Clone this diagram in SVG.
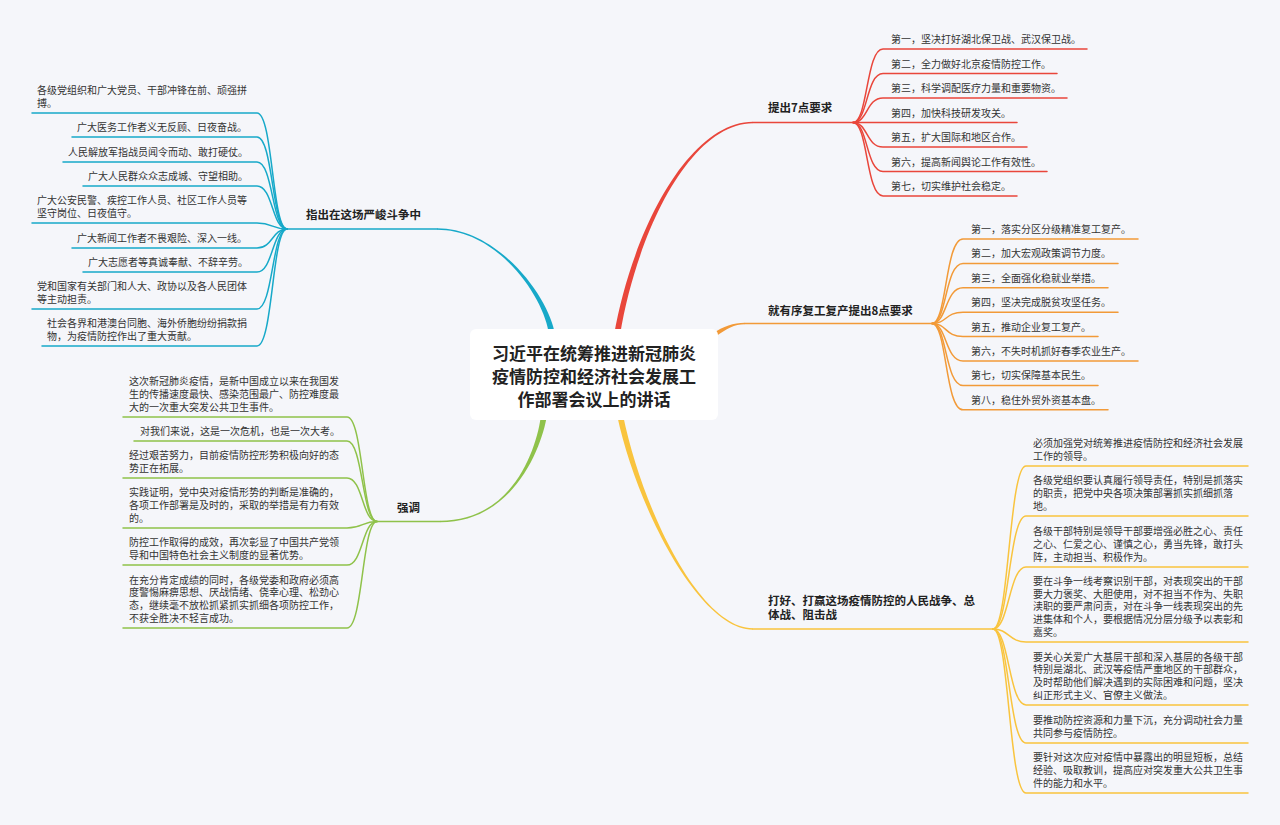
<svg xmlns="http://www.w3.org/2000/svg" width="1280" height="825" viewBox="0 0 1280 825">
<style>
text{font-family:"Noto Sans CJK SC","Noto Sans",sans-serif;}
.c{font-size:10px;fill:#333;}
.m{font-size:11.5px;font-weight:bold;fill:#222;}
.t{font-size:17px;font-weight:bold;fill:#222;text-anchor:middle;}
.l{fill:none;stroke-width:1.5;stroke-linecap:round;}
.red{stroke:#e9463b;} .redf{fill:#e9463b;}
.org{stroke:#f29a38;} .orgf{fill:#f29a38;}
.yel{stroke:#f9c43e;} .yelf{fill:#f9c43e;}
.grn{stroke:#8fc24a;} .grnf{fill:#8fc24a;}
.cyn{stroke:#17a9c9;} .cynf{fill:#17a9c9;}
</style>
<rect width="1280" height="825" fill="#f5f6fa"/>
<g id="connectors">
  <!-- main branches -->
  <path class="redf" d="M614,335 C632.5,230 689,121.75 753,121.75 L753,123.25 C691,123.25 637.5,230 620,335 Z"/>
  <path class="l red" d="M753,122.5 H853"/>
  <path class="cynf" d="M549,335 C545.5,300 500,229.75 437,229.75 L437,228.25 C500,228.25 550.5,300 555,335 Z"/>
  <path class="l cyn" d="M437,229 H287"/>
  <path class="grnf" d="M541,415 C537.5,445 515,520.75 440,520.75 L440,522.25 C515,522.25 542.5,445 547,415 Z"/>
  <path class="l grn" d="M440,521.5 H377"/>
  <path class="yelf" d="M623,415 C642.5,510 700,628.25 753,628.25 L753,629.75 C700,629.75 637.5,510 617,415 Z"/>
  <path class="l yel" d="M753,629 H993"/>
  <path class="orgf" d="M712,334 C724,326 733,322.75 745,322.75 L745,324.25 C734,324.25 727,328.5 715,337 Z"/>
  <path class="l org" d="M745,323.5 H932"/>
  <!-- red children -->
  <g class="l red">
    <path d="M853,122.5 C868,122.5 866,49 883,49 H1087"/>
    <path d="M853,122.5 C868,122.5 866,73.5 883,73.5 H1057"/>
    <path d="M853,122.5 C868,122.5 866,98 883,98 H1067"/>
    <path d="M853,122.5 H1017"/>
    <path d="M853,122.5 C868,122.5 866,147 883,147 H1027"/>
    <path d="M853,122.5 C868,122.5 866,171.5 883,171.5 H1047"/>
    <path d="M853,122.5 C868,122.5 866,196 883,196 H1017"/>
  </g>
  <!-- orange children -->
  <g class="l org">
    <path d="M932,323.5 C947,323.5 945,239 963,239 H1138"/>
    <path d="M932,323.5 C947,323.5 945,263.4 963,263.4 H1118"/>
    <path d="M932,323.5 C947,323.5 945,287.8 963,287.8 H1108"/>
    <path d="M932,323.5 C947,323.5 945,312.2 963,312.2 H1118"/>
    <path d="M932,323.5 C947,323.5 945,336.6 963,336.6 H1098"/>
    <path d="M932,323.5 C947,323.5 945,361 963,361 H1138"/>
    <path d="M932,323.5 C947,323.5 945,385.4 963,385.4 H1098"/>
    <path d="M932,323.5 C947,323.5 945,409.8 963,409.8 H1108"/>
  </g>
  <!-- yellow children -->
  <g class="l yel">
    <path d="M993,629 C1009,629 1009,466 1026,466 H1248"/>
    <path d="M993,629 C1009,629 1009,516 1026,516 H1248"/>
    <path d="M993,629 C1009,629 1009,567 1026,567 H1248"/>
    <path d="M993,629 C1009,629 1009,642 1026,642 H1248"/>
    <path d="M993,629 C1009,629 1009,705 1026,705 H1248"/>
    <path d="M993,629 C1009,629 1009,743 1026,743 H1248"/>
    <path d="M993,629 C1009,629 1009,793 1026,793 H1248"/>
  </g>
  <!-- cyan children -->
  <g class="l cyn">
    <path d="M287,229 C272,229 273,113 257,113 H32"/>
    <path d="M287,229 C272,229 273,137 257,137 H72"/>
    <path d="M287,229 C272,229 273,162 257,162 H63"/>
    <path d="M287,229 C272,229 273,186 257,186 H83"/>
    <path d="M287,229 C272,229 273,223 257,223 H32"/>
    <path d="M287,229 C272,229 273,248 257,248 H72"/>
    <path d="M287,229 C272,229 273,272 257,272 H83"/>
    <path d="M287,229 C272,229 273,309 257,309 H32"/>
    <path d="M287,229 C272,229 273,346 257,346 H42"/>
  </g>
  <!-- green children -->
  <g class="l grn">
    <path d="M377,521.5 C362,521.5 363,417 347,417 H123"/>
    <path d="M377,521.5 C362,521.5 363,441 347,441 H134"/>
    <path d="M377,521.5 C362,521.5 363,478 347,478 H123"/>
    <path d="M377,521.5 C362,521.5 363,528 347,528 H123"/>
    <path d="M377,521.5 C362,521.5 363,565 347,565 H123"/>
    <path d="M377,521.5 C362,521.5 363,628 347,628 H123"/>
  </g>
</g>
<g id="root">
  <rect x="470" y="329" width="248" height="91" rx="6" fill="#ffffff"/>
  <text class="t" x="594" y="360">习近平在统筹推进新冠肺炎</text>
  <text class="t" x="594" y="383">疫情防控和经济社会发展工</text>
  <text class="t" x="594" y="406">作部署会议上的讲话</text>
</g>
<g id="branch-7">
  <text class="m" x="768" y="111.5">提出7点要求</text>
  <text class="c" x="891" y="43">第一，坚决打好湖北保卫战、武汉保卫战。</text>
  <text class="c" x="891" y="67.5">第二，全力做好北京疫情防控工作。</text>
  <text class="c" x="891" y="92">第三，科学调配医疗力量和重要物资。</text>
  <text class="c" x="891" y="116.5">第四，加快科技研发攻关。</text>
  <text class="c" x="891" y="141">第五，扩大国际和地区合作。</text>
  <text class="c" x="891" y="165.5">第六，提高新闻舆论工作有效性。</text>
  <text class="c" x="891" y="190">第七，切实维护社会稳定。</text>
</g>
<g id="branch-8">
  <text class="m" x="768" y="314.5">就有序复工复产提出8点要求</text>
  <text class="c" x="971" y="233">第一，落实分区分级精准复工复产。</text>
  <text class="c" x="971" y="257.4">第二，加大宏观政策调节力度。</text>
  <text class="c" x="971" y="281.8">第三，全面强化稳就业举措。</text>
  <text class="c" x="971" y="306.2">第四，坚决完成脱贫攻坚任务。</text>
  <text class="c" x="971" y="330.6">第五，推动企业复工复产。</text>
  <text class="c" x="971" y="355">第六，不失时机抓好春季农业生产。</text>
  <text class="c" x="971" y="379.4">第七，切实保障基本民生。</text>
  <text class="c" x="971" y="403.8">第八，稳住外贸外资基本盘。</text>
</g>
<g id="branch-war">
  <text class="m" x="768" y="604.5">打好、打赢这场疫情防控的人民战争、总</text>
  <text class="m" x="768" y="618.5">体战、阻击战</text>
  <text class="c" x="1033" y="446.9">必须加强党对统筹推进疫情防控和经济社会发展<tspan x="1033" dy="12.6">工作的领导。</tspan></text>
  <text class="c" x="1033" y="484.3">各级党组织要认真履行领导责任，特别是抓落实<tspan x="1033" dy="12.6">的职责，把党中央各项决策部署抓实抓细抓落</tspan><tspan x="1033" dy="12.6">地。</tspan></text>
  <text class="c" x="1033" y="535.3">各级干部特别是领导干部要增强必胜之心、责任<tspan x="1033" dy="12.6">之心、仁爱之心、谨慎之心，勇当先锋，敢打头</tspan><tspan x="1033" dy="12.6">阵，主动担当、积极作为。</tspan></text>
  <text class="c" x="1033" y="585.1">要在斗争一线考察识别干部，对表现突出的干部<tspan x="1033" dy="12.6">要大力褒奖、大胆使用，对不担当不作为、失职</tspan><tspan x="1033" dy="12.6">渎职的要严肃问责，对在斗争一线表现突出的先</tspan><tspan x="1033" dy="12.6">进集体和个人，要根据情况分层分级予以表彰和</tspan><tspan x="1033" dy="12.6">嘉奖。</tspan></text>
  <text class="c" x="1033" y="660.7">要关心关爱广大基层干部和深入基层的各级干部<tspan x="1033" dy="12.6">特别是湖北、武汉等疫情严重地区的干部群众，</tspan><tspan x="1033" dy="12.6">及时帮助他们解决遇到的实际困难和问题，坚决</tspan><tspan x="1033" dy="12.6">纠正形式主义、官僚主义做法。</tspan></text>
  <text class="c" x="1033" y="723.9">要推动防控资源和力量下沉，充分调动社会力量<tspan x="1033" dy="12.6">共同参与疫情防控。</tspan></text>
  <text class="c" x="1033" y="761.3">要针对这次应对疫情中暴露出的明显短板，总结<tspan x="1033" dy="12.6">经验、吸取教训，提高应对突发重大公共卫生事</tspan><tspan x="1033" dy="12.6">件的能力和水平。</tspan></text>
</g>
<g id="branch-struggle">
  <text class="m" x="306" y="218.5">指出在这场严峻斗争中</text>
  <text class="c" x="37" y="94">各级党组织和广大党员、干部冲锋在前、顽强拼<tspan x="37" dy="12.6">搏。</tspan></text>
  <text class="c" x="77" y="130.5">广大医务工作者义无反顾、日夜奋战。</text>
  <text class="c" x="68" y="155.5">人民解放军指战员闻令而动、敢打硬仗。</text>
  <text class="c" x="88" y="179.5">广大人民群众众志成城、守望相助。</text>
  <text class="c" x="37" y="203.9">广大公安民警、疾控工作人员、社区工作人员等<tspan x="37" dy="12.6">坚守岗位、日夜值守。</tspan></text>
  <text class="c" x="77" y="241.5">广大新闻工作者不畏艰险、深入一线。</text>
  <text class="c" x="88" y="265.5">广大志愿者等真诚奉献、不辞辛劳。</text>
  <text class="c" x="37" y="289.9">党和国家有关部门和人大、政协以及各人民团体<tspan x="37" dy="12.6">等主动担责。</tspan></text>
  <text class="c" x="47" y="326.9">社会各界和港澳台同胞、海外侨胞纷纷捐款捐<tspan x="47" dy="12.6">物，为疫情防控作出了重大贡献。</tspan></text>
</g>
<g id="branch-emphasis">
  <text class="m" x="397" y="511.5">强调</text>
  <text class="c" x="129" y="385.3">这次新冠肺炎疫情，是新中国成立以来在我国发<tspan x="129" dy="12.6">生的传播速度最快、感染范围最广、防控难度最</tspan><tspan x="129" dy="12.6">大的一次重大突发公共卫生事件。</tspan></text>
  <text class="c" x="140" y="434.5">对我们来说，这是一次危机，也是一次大考。</text>
  <text class="c" x="129" y="458.9">经过艰苦努力，目前疫情防控形势积极向好的态<tspan x="129" dy="12.6">势正在拓展。</tspan></text>
  <text class="c" x="129" y="496.3">实践证明，党中央对疫情形势的判断是准确的，<tspan x="129" dy="12.6">各项工作部署是及时的，采取的举措是有力有效</tspan><tspan x="129" dy="12.6">的。</tspan></text>
  <text class="c" x="129" y="545.9">防控工作取得的成效，再次彰显了中国共产党领<tspan x="129" dy="12.6">导和中国特色社会主义制度的显著优势。</tspan></text>
  <text class="c" x="129" y="583.7">在充分肯定成绩的同时，各级党委和政府必须高<tspan x="129" dy="12.6">度警惕麻痹思想、厌战情绪、侥幸心理、松劲心</tspan><tspan x="129" dy="12.6">态，继续毫不放松抓紧抓实抓细各项防控工作，</tspan><tspan x="129" dy="12.6">不获全胜决不轻言成功。</tspan></text>
</g>
</svg>
